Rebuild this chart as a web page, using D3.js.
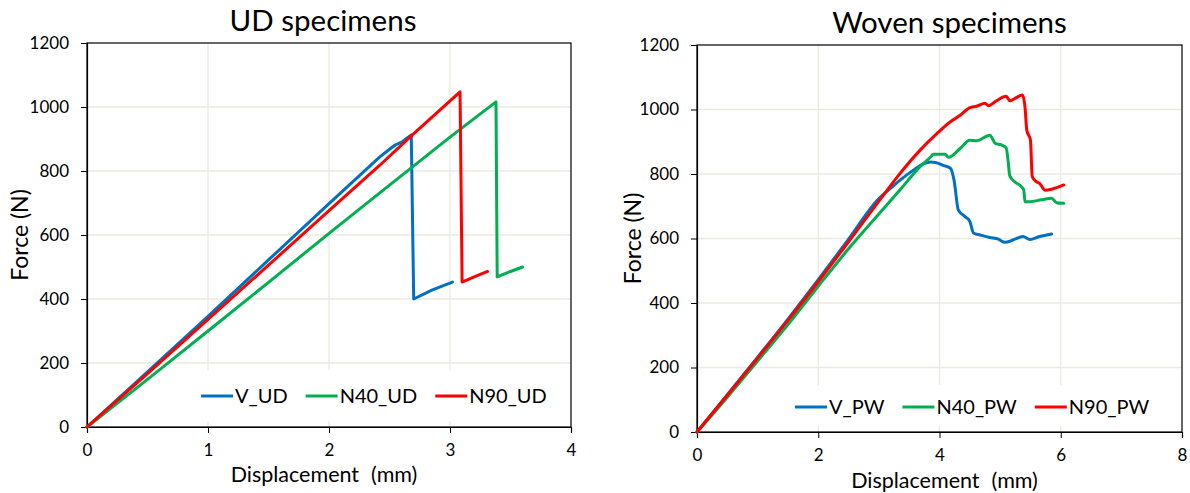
<!DOCTYPE html>
<html>
<head>
<meta charset="utf-8">
<script src="https://cdn.jsdelivr.net/npm/d3@7"></script>
<style>
  html, body { margin: 0; padding: 0; background: #fff; }
  svg { display: block; }
  text { font-family: "Lato", "Open Sans", sans-serif; fill: #000; }
</style>
</head>
<body>
<svg id="chart" width="1190" height="493"></svg>
<script>
// ---- Data: force (N) vs displacement (mm) ----
const forceTicks = [0, 200, 400, 600, 800, 1000, 1200];
const udDispTicks = [0, 1, 2, 3, 4];
const pwDispTicks = [0, 2, 4, 6, 8];

// UD specimens
const V_UD = [[0,0],[0.5,172],[1,346],[1.5,522],[2,698],[2.42,844],[2.5,868],[2.55,882],[2.6,890],[2.68,913],[2.70,400],[2.85,428],[3.02,453]];
const N40_UD = [[0,0],[0.5,149],[1,300],[1.5,452],[2,605],[2.5,756],[3,906],[3.38,1016],[3.39,469],[3.5,486],[3.6,500]];
const N90_UD = [[0,0],[0.5,167],[1,336],[1.5,506],[2,676],[2.42,818],[2.68,910],[3.083,1047],[3.10,453],[3.2,469],[3.31,486]];

// Woven (plain weave) specimens
const V_PW = [[0,0],[0.5,116],[1,232],[1.5,350],[2,472],[2.5,598],[3,724],[3.2,757],[3.35,781],[3.57,812],[3.74,832],[3.85,837],[3.93,836],[4.07,826],[4.18,818],[4.24,781],[4.31,689],[4.42,668],[4.50,653],[4.56,617],[4.67,611],[4.83,603],[4.97,598],[5.08,588],[5.22,596],[5.38,606],[5.49,597],[5.65,606],[5.85,614]];
const N40_PW = [[0,0],[0.5,108],[1,220],[1.5,333],[2,452],[2.5,568],[3,676],[3.35,751],[3.68,823],[3.85,852],[3.90,861],[4.09,861],[4.15,852],[4.34,879],[4.50,905],[4.61,903],[4.83,920],[4.92,895],[5.02,890],[5.10,881],[5.13,843],[5.16,794],[5.24,776],[5.35,761],[5.39,750],[5.41,714],[5.49,714],[5.68,720],[5.85,725],[5.93,711],[6.05,709]];
const N90_PW = [[0,0],[0.5,114],[1,229],[1.5,346],[2,466],[2.5,590],[3,716],[3.35,802],[3.68,874],[3.96,926],[4.18,962],[4.34,982],[4.50,1006],[4.61,1010],[4.75,1019],[4.81,1012],[4.94,1027],[5.10,1041],[5.16,1027],[5.24,1034],[5.37,1045],[5.41,1008],[5.44,936],[5.50,905],[5.53,792],[5.60,776],[5.65,771],[5.74,750],[5.85,753],[6.05,766]];

const udNames = ["V_UD", "N40_UD", "N90_UD"];
const pwNames = ["V_PW", "N40_PW", "N90_PW"];
const seriesColors = ["#0070C0", "#00B050", "#FF0000"];

const svg = d3.select("#chart");

function drawPanel(cfg) {
  const g = svg.append("g");
  const x = d3.scaleLinear().domain([0, cfg.xTicks[cfg.xTicks.length - 1]]).range([cfg.left, cfg.right]);
  const y = d3.scaleLinear().domain([0, 1200]).range([cfg.bottom, cfg.top]);

  // gridlines
  g.append("g").selectAll("line").data(cfg.xTicks.slice(1, -1)).join("line")
    .attr("x1", d => x(d)).attr("x2", d => x(d))
    .attr("y1", cfg.top).attr("y2", cfg.bottom)
    .attr("stroke", "#ECEADF").attr("stroke-width", 1.3);
  g.append("g").selectAll("line").data(forceTicks.slice(1, -1)).join("line")
    .attr("x1", cfg.left).attr("x2", cfg.right)
    .attr("y1", d => y(d)).attr("y2", d => y(d))
    .attr("stroke", "#ECEADF").attr("stroke-width", 1.3);

  // legend background (covers gridlines)
  const leg = g.append("g");
  leg.append("rect")
    .attr("x", cfg.legend.x0).attr("y", cfg.legend.top)
    .attr("width", cfg.legend.x1 - cfg.legend.x0).attr("height", cfg.legend.bottom - cfg.legend.top)
    .attr("fill", "#fff");

  // frame
  g.append("rect")
    .attr("x", cfg.left).attr("y", cfg.top)
    .attr("width", cfg.right - cfg.left).attr("height", cfg.bottom - cfg.top)
    .attr("fill", "none").attr("stroke", "#000").attr("stroke-width", 1.2);

  // axes
  const xAxis = d3.axisBottom(x).tickValues(cfg.xTicks).tickSize(6).tickPadding(11).tickFormat(d3.format("d"));
  const yAxis = d3.axisLeft(y).tickValues(forceTicks).tickSize(6).tickPadding(12).tickFormat(d3.format("d"));
  const gx = g.append("g").attr("transform", `translate(0,${cfg.bottom})`).call(xAxis);
  const gy = g.append("g").attr("transform", `translate(${cfg.left},0)`).call(yAxis);
  [gx, gy].forEach(a => {
    a.select(".domain").attr("stroke", "#000").attr("stroke-width", 1.2);
    a.selectAll(".tick line").attr("stroke", "#000").attr("stroke-width", 1);
    a.selectAll(".tick text").attr("font-size", 17).attr("font-family", "Lato").attr("fill", "#000");
  });

  // data lines
  const line = d3.line().x(d => x(d[0])).y(d => y(d[1])).curve(cfg.curve);
  cfg.series.forEach((s, i) => {
    g.append("path").datum(s)
      .attr("d", line)
      .attr("fill", "none")
      .attr("stroke", seriesColors[i])
      .attr("stroke-width", 3)
      .attr("stroke-linejoin", "round")
      .attr("stroke-linecap", "round");
  });

  // legend entries
  let cx = cfg.legend.start;
  cfg.names.forEach((n, i) => {
    leg.append("line")
      .attr("x1", cx).attr("x2", cx + 32)
      .attr("y1", cfg.legend.cy).attr("y2", cfg.legend.cy)
      .attr("stroke", seriesColors[i]).attr("stroke-width", 3);
    const t = leg.append("text")
      .attr("x", cx + 34).attr("y", cfg.legend.cy)
      .attr("dy", "0.36em")
      .attr("font-size", 20)
      .text(n);
    cx += 34 + t.node().getComputedTextLength() + 18;
  });

  // titles
  g.append("text")
    .attr("x", (cfg.left + cfg.right) / 2 + cfg.titleDx).attr("y", cfg.titleY)
    .attr("text-anchor", "middle").attr("font-size", 29.5)
    .text(cfg.title);
  const xt = g.append("text")
    .attr("x", (cfg.left + cfg.right) / 2 + cfg.xLabelDx).attr("y", cfg.xLabelY)
    .attr("text-anchor", "middle").attr("dy", "0.36em").attr("font-size", 21.5);
  xt.append("tspan").text("Displacement");
  xt.append("tspan").attr("dx", 12).text("(mm)");
  g.append("text")
    .attr("transform", `translate(${cfg.yLabelX},${(cfg.top + cfg.bottom) / 2}) rotate(-90)`)
    .attr("text-anchor", "middle").attr("dy", "0.36em").attr("font-size", 23)
    .text("Force (N)");
}

drawPanel({
  left: 87, right: 571, top: 43, bottom: 427,
  xTicks: udDispTicks,
  series: [V_UD, N40_UD, N90_UD],
  names: udNames,
  curve: d3.curveLinear,
  legend: { x0: 190, x1: 556, top: 370, bottom: 421, start: 201, cy: 396 },
  title: "UD specimens", titleDx: -6, titleY: 31,
  xLabelDx: -5, xLabelY: 474,
  yLabelX: 20
});

drawPanel({
  left: 697, right: 1182, top: 45, bottom: 432,
  xTicks: pwDispTicks,
  series: [V_PW, N40_PW, N90_PW],
  names: pwNames,
  curve: d3.curveMonotoneX,
  legend: { x0: 785, x1: 1165, top: 385, bottom: 426, start: 795, cy: 407 },
  title: "Woven specimens", titleDx: 10, titleY: 33,
  xLabelDx: 5, xLabelY: 480,
  yLabelX: 633
});
</script>
</body>
</html>
